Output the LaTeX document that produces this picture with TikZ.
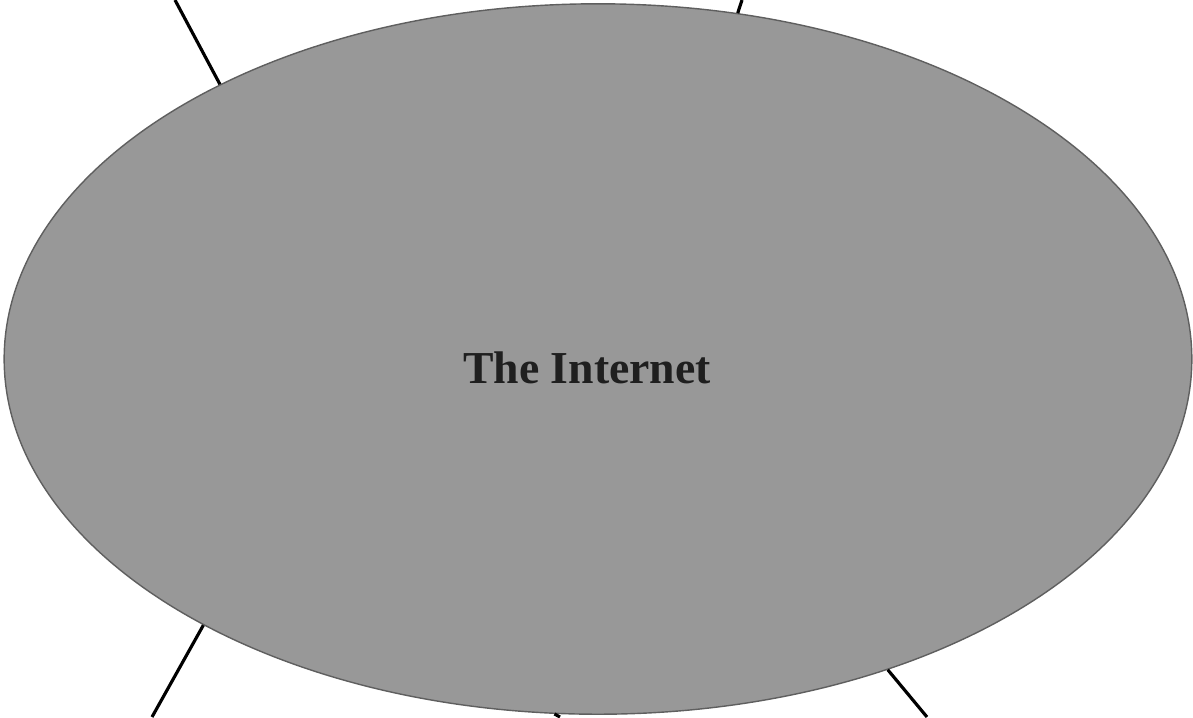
\documentclass[tikz,border=0pt]{standalone}
\usepackage{fontspec}
\setmainfont{Liberation Serif}
\usetikzlibrary{shapes.geometric}
\definecolor{cloudgray}{RGB}{152,152,152}
\definecolor{cloudedge}{RGB}{95,95,95}

\begin{document}
\begin{tikzpicture}[x=0.01cm,y=-0.01cm,
    cloud/.style={ellipse,fill=cloudgray,draw=cloudedge,line width=0.4pt,inner sep=0pt,
      minimum width=11.87cm,minimum height=7.10cm},
    title/.style={text=black!88,font=\bfseries\fontsize{13}{15}\selectfont},
    wire/.style={line width=0.9pt,black}]
  \useasboundingbox (0,0) rectangle (1193,717);
  \node[cloud] (internet) at (598,359) {};
  \node[title] (name) at (587,368) {The Internet};
  % free ends of the links
  \coordinate (nw) at (175,0);
  \coordinate (ne) at (742,0);
  \coordinate (sw) at (152,717);
  \coordinate (s) at (560,717);
  \coordinate (se) at (927,717);
  \draw[wire] (internet.144) -- (nw);
  \draw[wire] (internet.68) -- (ne);
  \draw[wire] (internet.214.6) -- (sw);
  \draw[wire] (internet.263.8) -- (s);
  \draw[wire] (internet.313.7) -- (se);
\end{tikzpicture}
\end{document}
